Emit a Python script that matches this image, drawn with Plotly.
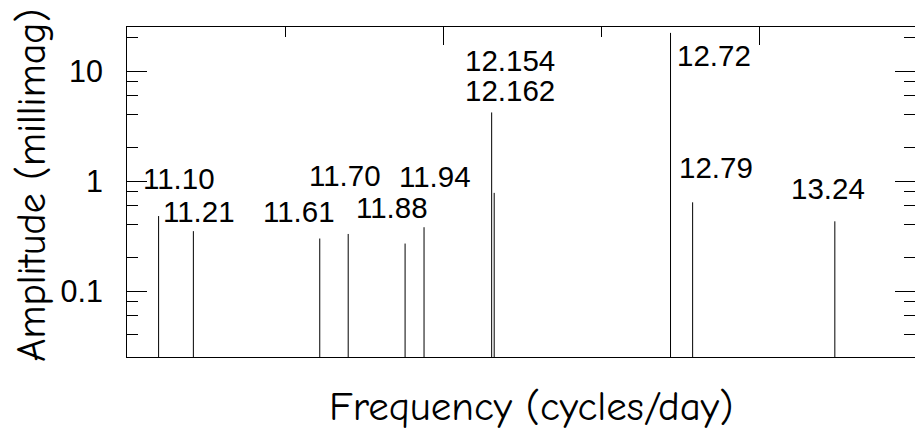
import numpy as np
import plotly.graph_objects as go

# ---- data ----
freq_labels = ["11.10", "11.21", "11.61", "11.70", "11.88", "11.94",
               "12.154", "12.162", "12.72", "12.79", "13.24"]
frequencies = [11.10, 11.21, 11.61, 11.70, 11.88, 11.94,
               12.154, 12.162, 12.72, 12.79, 13.24]
amplitudes = [0.48, 0.35, 0.30, 0.33, 0.27, 0.38,
              4.2, 0.78, 22.2, 0.64, 0.43]

y_tickvals = [0.1, 1, 10]
y_ticktext = ["0.1", "1", "10"]
y_minor = [0.04, 0.06, 0.08, 0.2, 0.4, 0.6, 0.8, 2, 4, 6, 8, 20]
x_major = [12, 13]
x_minor = [11.5, 12.5]

# ---- layout / style ----
W, H = 915, 438
ML, MR, MT, MB = 127, 0, 27, 81
PX_PER_UNIT = 316.0
x_range = [11.0, 11.0 + (W - ML - MR) / PX_PER_UNIT]
y_range = [-1.6, 1.4]
baseline = 0.01

# label offsets (pixels) relative to top of each line
label_dx = [20, 6, -21, -3, -13, 11, 18, 16, 43, 23, -7]
label_dy = [38, 20, 27, 58, 36, 51, 52, 102, -23, 35, 33]

num_font = "Liberation Sans, Arial, Helvetica, sans-serif"
title_font = "Comic Sans MS, Comic Neue, Noto Sans, sans-serif"

xs, ys = [], []
for f, a in zip(frequencies, amplitudes):
    xs += [f, f, None]
    ys += [baseline, a, None]

fig = go.Figure()
fig.add_trace(go.Scatter(x=xs, y=ys, mode="lines",
                         line=dict(color="black", width=1),
                         hoverinfo="skip", showlegend=False))
# invisible trace to activate the mirror axes
fig.add_trace(go.Scatter(x=[frequencies[0]], y=[amplitudes[0]], mode="markers",
                         marker=dict(opacity=0), xaxis="x2", yaxis="y2",
                         hoverinfo="skip", showlegend=False))

for lab, f, a, dx, dy in zip(freq_labels, frequencies, amplitudes, label_dx, label_dy):
    fig.add_annotation(x=f, y=np.log10(a), xref="x", yref="y", text=lab,
                       showarrow=False, xanchor="center", yanchor="middle",
                       xshift=dx, yshift=dy,
                       font=dict(family=num_font, size=29.5, color="black"))

fig.add_annotation(x=0.513, y=-0.15, xref="paper", yref="paper",
                   text="Frequency (cycles/day)", showarrow=False,
                   xanchor="center", yanchor="middle",
                   font=dict(family=title_font, size=41, color="black"))
fig.add_annotation(x=-0.12, y=0.52, xref="paper", yref="paper",
                   text="Amplitude (millimag)", showarrow=False, textangle=-90,
                   xanchor="center", yanchor="middle",
                   font=dict(family=title_font, size=40, color="black"))

common_y = dict(type="log", range=y_range, showgrid=False, zeroline=False,
                tickmode="array", tickvals=y_tickvals, ticks="inside",
                ticklen=20, tickwidth=1, tickcolor="black",
                minor=dict(tickmode="array", tickvals=y_minor, ticks="inside",
                           ticklen=11, tickwidth=1, tickcolor="black",
                           showgrid=False))

fig.update_layout(
    width=W, height=H,
    margin=dict(l=ML, r=MR, t=MT, b=MB, pad=0),
    paper_bgcolor="white", plot_bgcolor="white",
    showlegend=False,
    xaxis=dict(range=x_range, showgrid=False, zeroline=False, showline=True,
               linecolor="black", linewidth=1, ticks="", showticklabels=False),
    xaxis2=dict(range=x_range, overlaying="x", side="top", anchor="y",
                showgrid=False, zeroline=False, showline=True,
                linecolor="black", linewidth=1, showticklabels=False,
                tickmode="array", tickvals=x_major, ticks="inside",
                ticklen=18, tickwidth=1, tickcolor="black",
                minor=dict(tickmode="array", tickvals=x_minor, ticks="inside",
                           ticklen=10, tickwidth=1, tickcolor="black",
                           showgrid=False)),
    yaxis=dict(**common_y, showline=True, linecolor="black", linewidth=1,
               ticktext=y_ticktext, ticklabelstandoff=17,
               tickfont=dict(family=num_font, size=30.5, color="black")),
    yaxis2=dict(**common_y, overlaying="y", side="right", anchor="x",
                showline=False, showticklabels=False),
)

fig.write_html("out.html")
